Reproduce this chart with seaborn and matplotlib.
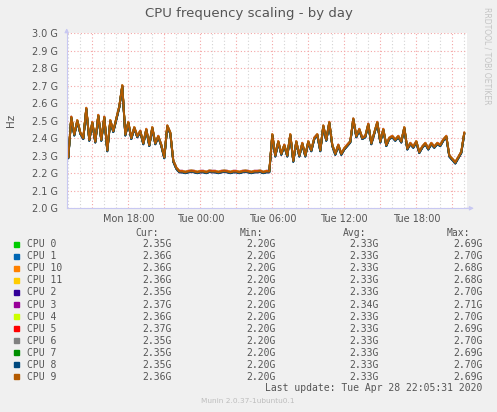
import pandas as pd
import matplotlib
matplotlib.use("Agg")
import matplotlib.pyplot as plt
import matplotlib.dates as mdates
import matplotlib.ticker as mticker
from matplotlib.patches import Rectangle
import seaborn as sns

# figure size in pixels (dpi 100)
W, H = 497, 412

# series names, munin colours, legend table values
cpus = ["CPU 0", "CPU 1", "CPU 10", "CPU 11", "CPU 2", "CPU 3",
        "CPU 4", "CPU 5", "CPU 6", "CPU 7", "CPU 8", "CPU 9"]
colors = ["#00CC00", "#0066B3", "#FF8000", "#FFCC00", "#330099", "#990099",
          "#CCFF00", "#FF0000", "#808080", "#008F00", "#00487D", "#B35A00"]
cur = ["2.35G", "2.36G", "2.36G", "2.36G", "2.35G", "2.37G",
       "2.36G", "2.37G", "2.35G", "2.35G", "2.35G", "2.36G"]
mins = ["2.20G"] * 12
avg = ["2.33G", "2.33G", "2.33G", "2.33G", "2.33G", "2.34G",
       "2.33G", "2.33G", "2.33G", "2.33G", "2.33G", "2.33G"]
maxs = ["2.69G", "2.70G", "2.68G", "2.68G", "2.70G", "2.71G",
        "2.70G", "2.69G", "2.70G", "2.69G", "2.70G", "2.69G"]

# common trace (GHz), read every 15 min from Mon 13:00 to Tue 22:00
freq_mon = [2.29, 2.52, 2.42, 2.50, 2.43, 2.40, 2.57, 2.39, 2.49, 2.38,
            2.53, 2.39, 2.52, 2.33, 2.50, 2.44, 2.51, 2.58, 2.70, 2.42,
            2.49, 2.40, 2.46, 2.41, 2.44, 2.37, 2.45, 2.36, 2.46, 2.37,
            2.41, 2.36, 2.29, 2.47, 2.43, 2.27, 2.23]
freq_night = [2.21, 2.21, 2.205, 2.21, 2.212, 2.21, 2.205, 2.21, 2.21, 2.205,
              2.212, 2.21, 2.21, 2.205, 2.21, 2.212, 2.21, 2.205, 2.21, 2.21,
              2.205, 2.21, 2.212, 2.21, 2.205, 2.21, 2.21, 2.212, 2.205, 2.21,
              2.21]
freq_day = [2.42, 2.30, 2.38, 2.31, 2.36, 2.30, 2.42, 2.27, 2.38, 2.30,
            2.37, 2.30, 2.38, 2.33, 2.40, 2.42, 2.33, 2.47, 2.39, 2.49,
            2.36, 2.31, 2.36, 2.31, 2.34, 2.36, 2.38, 2.51, 2.41, 2.45,
            2.40]
freq_eve = [2.41, 2.48, 2.37, 2.43, 2.49, 2.38, 2.45, 2.36, 2.40, 2.41,
            2.39, 2.41, 2.38, 2.46, 2.34, 2.37, 2.35, 2.38, 2.32, 2.35,
            2.37, 2.34, 2.37, 2.35, 2.37, 2.36, 2.39, 2.41, 2.30, 2.28,
            2.26, 2.29, 2.32, 2.43]
# small per-cpu deviation from the common trace (GHz)
cpu_offset = [0.002, -0.003, 0.001, 0.003, -0.004, 0.005,
              0.004, 0.002, -0.002, -0.003, -0.005, 0.000]

base = freq_mon + freq_night + freq_day + freq_eve
times = pd.date_range("2020-04-27 13:00", periods=len(base), freq="15min")

rows = []
for name, off in zip(cpus, cpu_offset):
    for t, v in zip(times, base):
        rows.append((t, name, v + off))
df = pd.DataFrame(rows, columns=["time", "cpu", "freq"])

sns.set_theme(style="white")
plt.rcParams["font.family"] = ["DejaVu Sans"]

grey_txt = "#555555"
fig = plt.figure(figsize=(W / 100, H / 100), dpi=100, facecolor="#F0F0F0")
ax = fig.add_axes([66.7 / W, 1 - 208.3 / H, 400 / W, 175 / H])
ax.set_facecolor("white")

sns.lineplot(data=df, x="time", y="freq", hue="cpu", hue_order=cpus,
             palette=colors, estimator=None, linewidth=1.35, legend=False, ax=ax)

ax.set_xlim(pd.Timestamp("2020-04-27 12:52"), pd.Timestamp("2020-04-28 22:12"))
ax.set_ylim(2.0, 3.0)

# grid: red dotted every 3 h / 0.1 G, grey dotted every hour
ax.xaxis.set_major_locator(mdates.HourLocator(byhour=range(0, 24, 3)))
ax.xaxis.set_minor_locator(mdates.HourLocator())


def hour_label(v, pos):
    d = mdates.num2date(v)
    return d.strftime("%a %H:%M") if d.hour % 6 == 0 else ""


ax.xaxis.set_major_formatter(mticker.FuncFormatter(hour_label))
ax.yaxis.set_major_locator(mticker.MultipleLocator(0.1))
ax.yaxis.set_major_formatter(mticker.FuncFormatter(lambda v, p: f"{v:.1f} G"))

ax.set_axisbelow(True)
ax.grid(True, which="major", color="#F4A6A6", linestyle=(0, (1, 2)), linewidth=0.8)
ax.grid(True, which="minor", axis="x", color="#D4D4D4", linestyle=(0, (1, 2)), linewidth=0.8)

ax.tick_params(axis="both", which="major", length=2, width=0.7, color="#F4A6A6",
               labelsize=7, labelcolor=grey_txt)
ax.tick_params(axis="x", which="major", pad=2)
ax.tick_params(axis="y", which="major", pad=4)
ax.tick_params(axis="x", which="minor", length=0)
ax.set_xlabel("")
ax.set_ylabel("")

for s in ["top", "right"]:
    ax.spines[s].set_visible(False)
for s in ["left", "bottom"]:
    ax.spines[s].set_color("#C8C8F2")
    ax.spines[s].set_linewidth(0.8)

arrow = dict(arrowstyle="-|>", color="#C8C8F2", lw=0.8, mutation_scale=6)
ax.annotate("", xy=(0, 1.045), xytext=(0, 0.99), xycoords="axes fraction", arrowprops=arrow)
ax.annotate("", xy=(1.025, 0), xytext=(0.99, 0), xycoords="axes fraction", arrowprops=arrow)


def fx(x):
    return x / W


def fy(y):
    return 1 - y / H


fig.text(0.5, fy(14), "CPU frequency scaling - by day", ha="center", va="center",
         fontsize=9.5, color=grey_txt)
fig.text(fx(11), fy(120), "Hz", rotation=90, ha="center", va="center",
         fontsize=7.5, color=grey_txt)
fig.text(fx(487.5), fy(56), "RRDTOOL / TOBI OETIKER", rotation=270, ha="center",
         va="center", fontsize=5.5, color="#C4C4C4")

# legend table
mono = dict(family="DejaVu Sans Mono", fontsize=7, color=grey_txt, va="center")
for label, xr in zip(["Cur:", "Min:", "Avg:", "Max:"], [159.3, 263.3, 366.7, 470]):
    fig.text(fx(xr), fy(233.3), label, ha="right", **mono)

for i, name in enumerate(cpus):
    y = 244.3 + 12.04 * i
    fig.patches.append(Rectangle((fx(14.3), fy(y + 2.5)), 5 / W, 5 / H,
                                 color=colors[i], transform=fig.transFigure))
    fig.text(fx(26.7), fy(y), name, ha="left", **mono)
    for val, xr in zip([cur[i], mins[i], avg[i], maxs[i]], [171.7, 275.7, 379, 482.7]):
        fig.text(fx(xr), fy(y), val, ha="right", **mono)

fig.text(fx(482.7), fy(388.3), "Last update: Tue Apr 28 22:05:31 2020", ha="right", **mono)
fig.text(fx(248), fy(401), "Munin 2.0.37-1ubuntu0.1", ha="center", va="center",
         fontsize=5.3, color="#BDBDBD")

fig.savefig("out.png", dpi=100, facecolor=fig.get_facecolor())
